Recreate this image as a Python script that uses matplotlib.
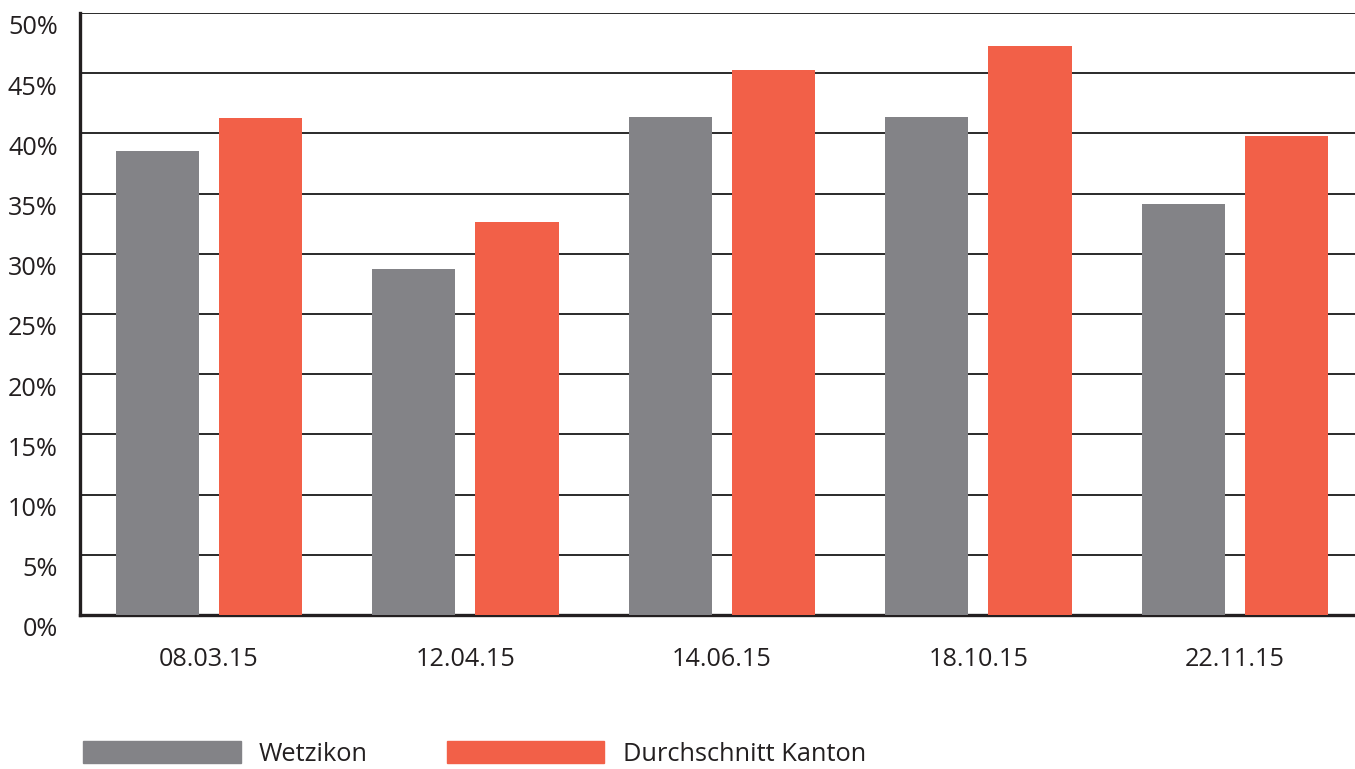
import numpy as np
import matplotlib.pyplot as plt
from matplotlib.transforms import ScaledTranslation
from matplotlib.patches import Patch

plt.rcParams['font.family'] = ['Open Sans', 'DejaVu Sans']

dates = ['08.03.15', '12.04.15', '14.06.15', '18.10.15', '22.11.15']
wetzikon = [38.5, 28.7, 41.4, 41.4, 34.1]
kanton = [41.3, 32.6, 45.3, 47.3, 39.8]
yticks = [0, 5, 10, 15, 20, 25, 30, 35, 40, 45, 50]

grey = '#838387'
red = '#F26048'

fig = plt.figure(figsize=(13.55, 7.69), dpi=100)
ax = fig.add_axes([0.059, 0.2003, 0.941, 0.7828])

x = np.arange(len(dates))
w = 0.325
off = (w + 0.078) / 2
ax.bar(x - off, wetzikon, w, color=grey, zorder=3)
ax.bar(x + off, kanton, w, color=red, zorder=3)

ax.set_xlim(-0.503, 4.468)
ax.set_ylim(0, 50)
ax.set_yticks(yticks)
ax.set_yticklabels([f'{v}%' for v in yticks])
ax.set_xticks(x)
ax.set_xticklabels(dates)
ax.grid(axis='y', color='#2a2a2a', linewidth=1.4, zorder=1)
ax.tick_params(axis='both', length=0, labelsize=18.2, labelcolor='#231f20')
ax.tick_params(axis='y', pad=16)
ax.tick_params(axis='x', pad=23)

for s in ['top', 'right']:
    ax.spines[s].set_visible(False)
for s in ['left', 'bottom']:
    ax.spines[s].set_linewidth(2.4)
    ax.spines[s].set_color('#231f20')

shift = ScaledTranslation(0, -12 / 100, fig.dpi_scale_trans)
for lab in ax.get_yticklabels():
    lab.set_transform(lab.get_transform() + shift)

handles = [Patch(color=grey, label='Wetzikon'),
           Patch(color=red, label='Durchschnitt Kanton')]
fig.legend(handles=handles, loc='center left', bbox_to_anchor=(0.0445, 0.02),
           ncol=2, frameon=False, fontsize=18.3, handlelength=6.2,
           handleheight=1.0, handletextpad=0.72, columnspacing=3.1,
           labelcolor='#231f20')

fig.savefig('out.png', dpi=100)
